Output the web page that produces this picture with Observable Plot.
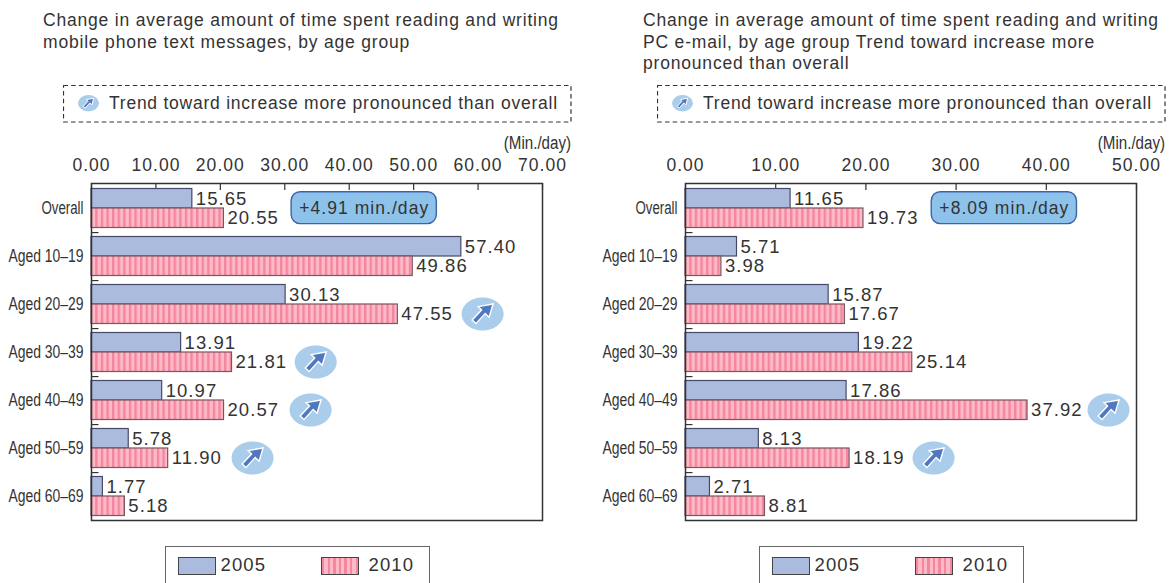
<!DOCTYPE html>
<html><head><meta charset="utf-8">
<script src="https://cdn.jsdelivr.net/npm/d3@7"></script>
<script src="https://cdn.jsdelivr.net/npm/@observablehq/plot@0.6"></script>
<style>
html,body{margin:0;padding:0;background:#fff;width:1176px;height:583px;overflow:hidden;font-family:"Liberation Sans",sans-serif;color:#333}
.panel{position:absolute;top:0;width:582px;height:583px;overflow:hidden}
.title{position:absolute;left:43px;top:10px;font-size:17.5px;line-height:21.7px;letter-spacing:.81px;white-space:pre;color:#333}
.note{position:absolute;left:63px;top:85px;width:508px;height:37px}
.note .box{position:absolute;left:0;top:0}
.note .ic{position:absolute;left:15px;top:10px}
.note span{position:absolute;left:46px;top:8px;font-size:17.5px;letter-spacing:.76px;white-space:pre}
.unit{position:absolute;right:11px;top:133px;font-size:18px;letter-spacing:0;color:#333;transform:scaleX(.84);transform-origin:right center;white-space:pre}
.legend{position:absolute;left:165px;top:546px;width:263px;height:60px;border:1.6px solid #666}
.sw{position:absolute;top:9.5px;width:36px;height:16.5px;border:1px solid #444}
.lt{position:absolute;top:7px;font-size:18.5px;letter-spacing:1.1px}
.plotwrap{position:absolute;left:0;top:135px}
svg.plot{overflow:visible}
g[aria-label="y-axis tick label"] text{font-size:17.5px;letter-spacing:0}
</style></head>
<body>
<svg width="0" height="0" style="position:absolute"><defs>
<pattern id="stripes" patternUnits="userSpaceOnUse" width="5.6" height="5.6">
<rect width="5.6" height="5.6" fill="#fdbac6"></rect><rect width="2.4" height="5.6" fill="#f5869f"></rect>
</pattern></defs></svg>
<script>
const categories = ["Overall","Aged 10–19","Aged 20–29","Aged 30–39","Aged 40–49","Aged 50–59","Aged 60–69"];
const mobile2005 = [15.65,57.40,30.13,13.91,10.97,5.78,1.77];
const mobile2010 = [20.55,49.86,47.55,21.81,20.57,11.90,5.18];
const pc2005 = [11.65,5.71,15.87,19.22,17.86,8.13,2.71];
const pc2010 = [19.73,3.98,17.67,25.14,37.92,18.19,8.81];
const mobileBadges = [["Aged 20–29",60.7],["Aged 30–39",34.8],["Aged 40–49",34.0],["Aged 50–59",25.0]];
const pcBadges = [["Aged 40–49",46.9],["Aged 50–59",27.5]];
const titles = ["Change in average amount of time spent reading and writing\nmobile phone text messages, by age group",
 "Change in average amount of time spent reading and writing\nPC e-mail, by age group Trend toward increase more\npronounced than overall"];
const noteText = "Trend toward increase more pronounced than overall";
const years = ["2005","2010"];

const ellipseSym = {draw(c){const a=21,b=16.5,k=.5523;c.moveTo(-a,0);
 c.bezierCurveTo(-a,-k*b,-k*a,-b,0,-b);c.bezierCurveTo(k*a,-b,a,-k*b,a,0);
 c.bezierCurveTo(a,k*b,k*a,b,0,b);c.bezierCurveTo(-k*a,b,-a,k*b,-a,0);c.closePath();}};
const arrowSym = {draw(c){const p=[[10.5,-10],[6.5,3.2],[2.6,-.6],[-6.6,9.6],[-10.4,6],[-1,-4],[-4.4,-7.4]];
 p.forEach((q,i)=>i?c.lineTo(q[0],q[1]):c.moveTo(q[0],q[1]));c.closePath();}};

const fmt = d3.format(".2f");
function chart(v05, v10, maxX, tickVals, badges, callout){
  const bars = (vals, top, bottom, fill, stroke) => Plot.barX(vals, {x1:0, x2:d=>d, y:(d,i)=>categories[i], insetTop:top, insetBottom:bottom, fill, stroke, strokeWidth:1.2});
  const labels = (vals, dy) => Plot.text(vals, {x:d=>d, y:(d,i)=>categories[i], text:d=>fmt(d), dy, dx:3.5, textAnchor:"start", fontSize:18.5, fill:"#333"});
  return Plot.plot({
    width:582, height:400, marginLeft:91, marginRight:40, marginTop:48, marginBottom:15,
    x:{domain:[0,maxX]}, y:{domain:categories, padding:0},
    style:{fontFamily:"Liberation Sans", fontSize:"17.5px", letterSpacing:"1.05px", color:"#333", background:"transparent"},
    marks:[
      Plot.axisX({anchor:"top", ticks:tickVals, tickFormat:fmt, tickSize:0, tickPadding:12.5, label:null, fontSize:17.5}),
      Plot.axisY({anchor:"left", tickSize:0, tickPadding:8, label:null, fontSize:17.5}),
      Plot.ruleX(tickVals, {x:d=>d, insetBottom:330, stroke:"#333", strokeWidth:1.2}),
      Plot.ruleY(categories.slice(0,-1), {y:d=>d, dy:24.07, insetRight:443.5, stroke:"#333", strokeWidth:1.2}),
      bars(v05, 4.5, 24, "#abbbdd", "#454b66"),
      bars(v10, 24, 4.5, "url(#stripes)", "#7a5563"),
      labels(v05, -9.2), labels(v10, 10),
      Plot.barX([callout], {x1:"x1", x2:"x2", y:"y", insetTop:7.7, insetBottom:8.4, rx:9, fill:"#8dc2ea", stroke:"#3e61ae", strokeWidth:1.4}),
      Plot.text([callout], {x:d=>(d.x1+d.x2)/2, y:"y", text:"text", fontSize:17.5, fill:"#333"}),
      Plot.dot(badges, {x:d=>d[1], y:d=>d[0], symbol:ellipseSym, r:10, dy:9.5, fill:"#aacdec", stroke:"none"}),
      Plot.dot(badges, {x:d=>d[1], y:d=>d[0], symbol:arrowSym, r:10, dy:9.5, fill:"#4f78bf", stroke:"#fff", strokeWidth:1.4}),
      Plot.frame({stroke:"#333", strokeWidth:1.5})
    ]
  });
}
const icon = `<svg class="ic" width="21" height="16.5" viewBox="-21 -16.5 42 33"><ellipse rx="21" ry="16.5" fill="#aacdec"></ellipse><polygon points="10.5,-10 6.5,3.2 2.6,-.6 -6.6,9.6 -10.4,6 -1,-4 -4.4,-7.4" fill="#4f78bf" stroke="#fff" stroke-width="2"></polygon></svg>`;
const box = `<svg class="box" width="509" height="38"><rect x=".5" y=".5" width="507.5" height="36.5" fill="none" stroke="#333" stroke-width="1.2" stroke-dasharray="4.5 3.2"></rect></svg>`;
function panel(left, titleLeft, title, plot){
  const p = document.createElement("div"); p.className="panel"; p.style.left=left+"px";
  p.innerHTML = `<div class="title" style="left:${titleLeft}px"></div>
   <div class="note">${box}${icon}<span></span></div><div class="unit">(Min./day)</div>
   <div class="legend">
    <div class="sw" style="left:12px;background:#abbbdd"></div><div class="lt" style="left:54.5px">${years[0]}</div>
    <div class="sw" style="left:155px;background:repeating-linear-gradient(90deg,#f5869f 0 2.4px,#fdbac6 2.4px 5.6px)"></div><div class="lt" style="left:202.5px">${years[1]}</div>
   </div><div class="plotwrap"></div>`;
  p.querySelector(".title").textContent = title;
  p.querySelector(".note span").textContent = noteText;
  p.querySelector(".plotwrap").append(plot);
  plot.classList.add("plot");
  document.body.append(p);
  // the reference sets the category labels in a condensed face: squeeze the glyphs
  plot.querySelectorAll('g[aria-label="y-axis tick label"] text').forEach(t => {
    t.setAttribute("textLength", t.textContent === "Overall" ? 42 : 75);
    t.setAttribute("lengthAdjust", "spacingAndGlyphs");
  });
}
panel(0, 43, titles[0], chart(mobile2005, mobile2010, 70, [0,10,20,30,40,50,60,70], mobileBadges, {x1:31.06,x2:53.6,y:"Overall",text:"+4.91 min./day"}));
panel(594, 49, titles[1], chart(pc2005, pc2010, 50, [0,10,20,30,40,50], pcBadges, {x1:27.3,x2:43.4,y:"Overall",text:"+8.09 min./day"}));
</script>
</body></html>
